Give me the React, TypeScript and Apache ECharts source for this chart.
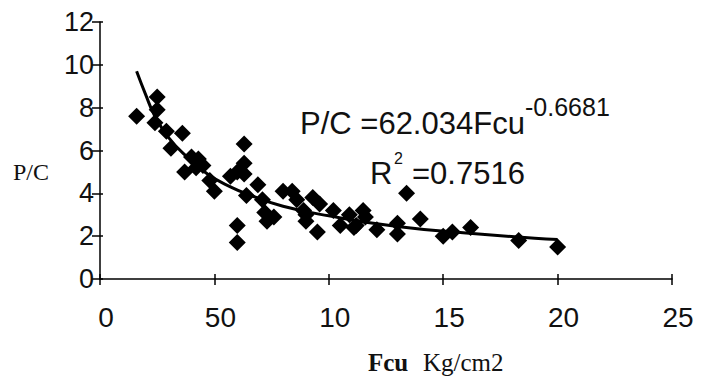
import React, { useEffect, useRef } from "react";
import * as echarts from "echarts";

const fcu = [16,25,25,24,29,31,36,37,40,43,42,45,48,50,57,60,60,60,63,63,63,64,69,71,72,73,76,80,84,86,89,90,90,93,95,96,102,105,109,111,112,115,116,121,130,130,134,140,150,154,162,183,200];
const pc = [7.6,8.5,7.9,7.3,6.9,6.1,6.8,5.0,5.7,5.6,5.2,5.3,4.6,4.1,4.8,5.0,2.5,1.7,6.3,5.4,4.9,3.9,4.4,3.7,3.1,2.7,2.9,4.1,4.1,3.7,3.2,2.7,3.0,3.8,2.2,3.5,3.2,2.5,3.0,2.4,2.5,3.2,2.9,2.3,2.6,2.1,4.0,2.8,2.0,2.2,2.4,1.8,1.5];

const trendX = [16,20,24,30,38,47,57,66,80,100,130,160,190,200];
const trendY = [9.7,8.6,7.6,6.6,5.7,4.9,4.3,3.9,3.4,2.95,2.45,2.15,1.9,1.85];

const xTickLabels = ["0", "50", "10", "15", "20", "25"];
const yTickLabels = ["0", "2", "4", "6", "8", "10", "12"];

const SANS = "'Liberation Sans', Arial, sans-serif";
const SERIF = "'Liberation Serif', 'Times New Roman', serif";

export default function App() {
  const ref = useRef<HTMLDivElement>(null);
  useEffect(() => {
    if (!ref.current) return;
    const chart = echarts.init(ref.current, undefined, { renderer: "svg" });
    const axisLine = { show: true, lineStyle: { color: "#000", width: 1.5 } };
    chart.setOption({
      animation: false,
      backgroundColor: "#fff",
      grid: { left: 100, right: 34, top: 22, bottom: 101 },
      xAxis: [
        {
          type: "value", min: 0, max: 250, interval: 50,
          axisLine, splitLine: { show: false },
          axisTick: { show: true, length: 6, lineStyle: { color: "#000", width: 1.5 } },
          axisLabel: {
            fontFamily: SANS, fontSize: 28, color: "#111", margin: 24,
            padding: [0, 0, 0, 12],
            formatter: (v: number) => xTickLabels[Math.round(v / 50)] ?? "",
          },
        },
        {
          type: "value", min: 0, max: 250, interval: 50, position: "bottom",
          axisLine: { show: false }, splitLine: { show: false },
          axisTick: { show: true, inside: true, length: 5, lineStyle: { color: "#000", width: 1.5 } },
          axisLabel: { show: false },
        },
      ],
      yAxis: [
        {
          type: "value", min: 0, max: 12, interval: 2,
          axisLine, splitLine: { show: false },
          axisTick: { show: true, length: 8, lineStyle: { color: "#000", width: 1.5 } },
          axisLabel: {
            fontFamily: SANS, fontSize: 27, color: "#111", margin: 6,
            formatter: (v: number) => yTickLabels[Math.round(v / 2)] ?? "",
          },
        },
        {
          type: "value", min: 0, max: 12, interval: 2, position: "left",
          axisLine: { show: false }, splitLine: { show: false },
          axisTick: { show: true, inside: true, length: 3, lineStyle: { color: "#000", width: 1.5 } },
          axisLabel: { show: false },
        },
      ],
      series: [
        {
          type: "line", smooth: true, symbol: "none",
          data: trendX.map((x, i) => [x, trendY[i]]),
          lineStyle: { color: "#000", width: 3 },
          z: 3,
        },
        {
          type: "scatter", symbol: "diamond", symbolSize: 17,
          data: fcu.map((x, i) => [x, pc[i]]),
          itemStyle: { color: "#000", opacity: 1 },
          z: 2,
        },
      ],
      graphic: [
        { type: "text", left: 13, top: 160, style: { text: "P/C", font: `24px ${SERIF}`, fill: "#111" } },
        { type: "text", left: 368, top: 350, style: { text: "Fcu", font: `bold 25px ${SERIF}`, fill: "#111" } },
        { type: "text", left: 423, top: 350, style: { text: "Kg/cm2", font: `25px ${SERIF}`, fill: "#111" } },
        { type: "text", left: 300, top: 108, style: { text: "P/C =62.034Fcu", font: `31px ${SANS}`, fill: "#111" } },
        { type: "text", left: 525, top: 94, style: { text: "-0.6681", font: `25px ${SANS}`, fill: "#111" } },
        { type: "text", left: 370, top: 158, style: { text: "R", font: `31px ${SANS}`, fill: "#111" } },
        { type: "text", left: 394, top: 150, style: { text: "2", font: `16px ${SANS}`, fill: "#111" } },
        { type: "text", left: 412, top: 158, style: { text: "=0.7516", font: `31px ${SANS}`, fill: "#111" } },
      ],
    });
    return () => chart.dispose();
  }, []);
  return <div ref={ref} style={{ position: "fixed", left: 0, top: 0, width: 706, height: 380 }} />;
}
